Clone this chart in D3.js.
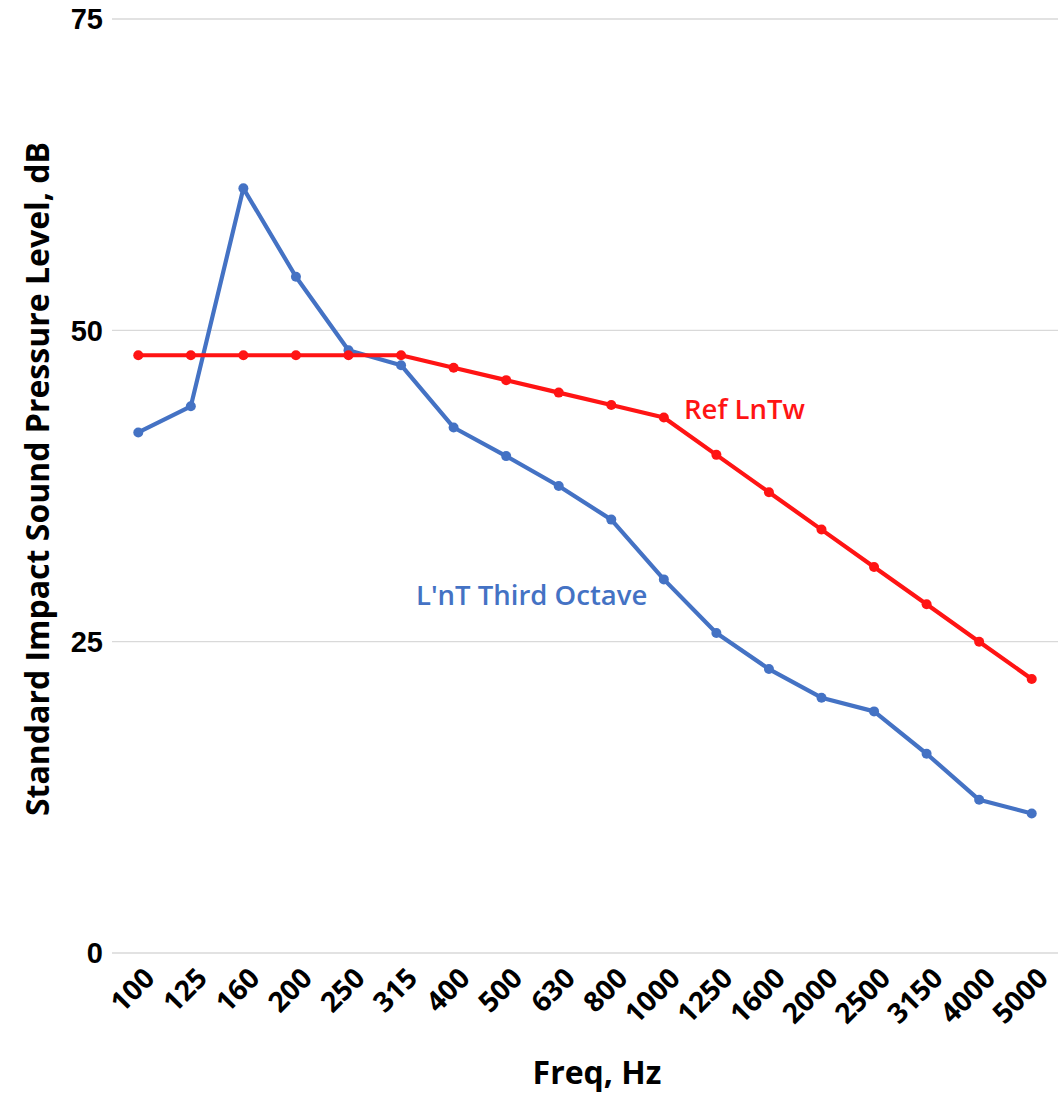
<!DOCTYPE html>
<html><head>
<meta charset="utf-8">
<script src="https://d3js.org/d3.v7.min.js"></script>
<style>
  body { margin: 0; background: #fff; }
  .ytick text { font-family: "Liberation Sans", Arial, sans-serif; font-weight: bold; font-size: 29px; fill: #000; }
  .xtick text { font-family: "Open Sans", sans-serif; font-weight: bold; font-size: 28px; fill: #000; }
  .title { font-family: "Open Sans", sans-serif; font-weight: bold; fill: #000; }
  .series-label { font-family: "Open Sans", sans-serif; font-weight: 600; font-size: 27.5px; }
</style>
</head>
<body>
<svg id="chart" width="1058" height="1093"></svg>
<script>

// Third-octave band centre frequencies
const freqs = ["100","125","160","200","250","315","400","500","630","800","1000","1250","1600","2000","2500","3150","4000","5000"];

// Reference curve
const refLnTw = [48,48,48,48,48,48,47,46,45,44,43,40,37,34,31,28,25,22];

// Measured third-octave values
const lntThird = [41.8,43.9,61.4,54.3,48.4,47.2,42.2,39.9,37.5,34.8,30.0,25.7,22.8,20.5,19.4,16.0,12.3,11.2];

const yTicks = [0,25,50,75];

const svg = d3.select("#chart");
const plotLeft = 112, plotRight = 1058, plotTop = 19, plotBottom = 953;

const x = d3.scaleBand().domain(freqs).range([plotLeft, plotRight]);
const y = d3.scaleLinear().domain([0,75]).range([plotBottom, plotTop]);
const cx = f => x(f) + x.bandwidth()/2;

// gridlines
svg.append("g").selectAll("line").data(yTicks)
  .join("line")
  .attr("x1", plotLeft).attr("x2", plotRight)
  .attr("y1", d => y(d)).attr("y2", d => y(d))
  .attr("stroke", "#d9d9d9").attr("stroke-width", 1.3);

// y tick labels
svg.append("g").attr("class","ytick").selectAll("text").data(yTicks)
  .join("text")
  .attr("x", 103).attr("y", d => y(d))
  .attr("dy", "0.36em")
  .attr("text-anchor", "end")
  .text(d => d);

// x tick labels (rotated)
svg.append("g").attr("class","xtick").selectAll("text").data(freqs)
  .join("text")
  .attr("text-anchor", "end")
  .attr("transform", d => "translate(" + (cx(d) + 18) + "," + 980 + ") rotate(-45)")
  .text(d => d);

// axis titles
svg.append("text").attr("class","title")
  .attr("x", 597).attr("y", 1084)
  .attr("text-anchor","middle")
  .style("font-size","32px")
  .text("Freq, Hz");

svg.append("text").attr("class","title")
  .attr("transform","translate(49," + 479 + ") rotate(-90)")
  .attr("text-anchor","middle")
  .style("font-size","32px")
  .text("Standard Impact Sound Pressure Level, dB");

// series
const series = [
  {name: "L'nT Third Octave", values: lntThird, color: "#4472C4"},
  {name: "Ref LnTw", values: refLnTw, color: "#FF1414"}
];

const line = d3.line()
  .x((d,i) => cx(freqs[i]))
  .y(d => y(d));

series.forEach(s => {
  const g = svg.append("g");
  g.append("path").datum(s.values)
    .attr("d", line)
    .attr("fill","none")
    .attr("stroke", s.color)
    .attr("stroke-width", 4.2)
    .attr("stroke-linejoin","round");
  g.selectAll("circle").data(s.values)
    .join("circle")
    .attr("cx", (d,i) => cx(freqs[i]))
    .attr("cy", d => y(d))
    .attr("r", 5)
    .attr("fill", s.color);
});

// series labels
svg.append("text").attr("class","series-label")
  .attr("x", 684).attr("y", 419)
  .attr("fill", "#FF1414")
  .text("Ref LnTw");
svg.append("text").attr("class","series-label")
  .attr("x", 416).attr("y", 605)
  .attr("fill", "#4472C4")
  .text("L'nT Third Octave");

</script>
</body>
</html>
